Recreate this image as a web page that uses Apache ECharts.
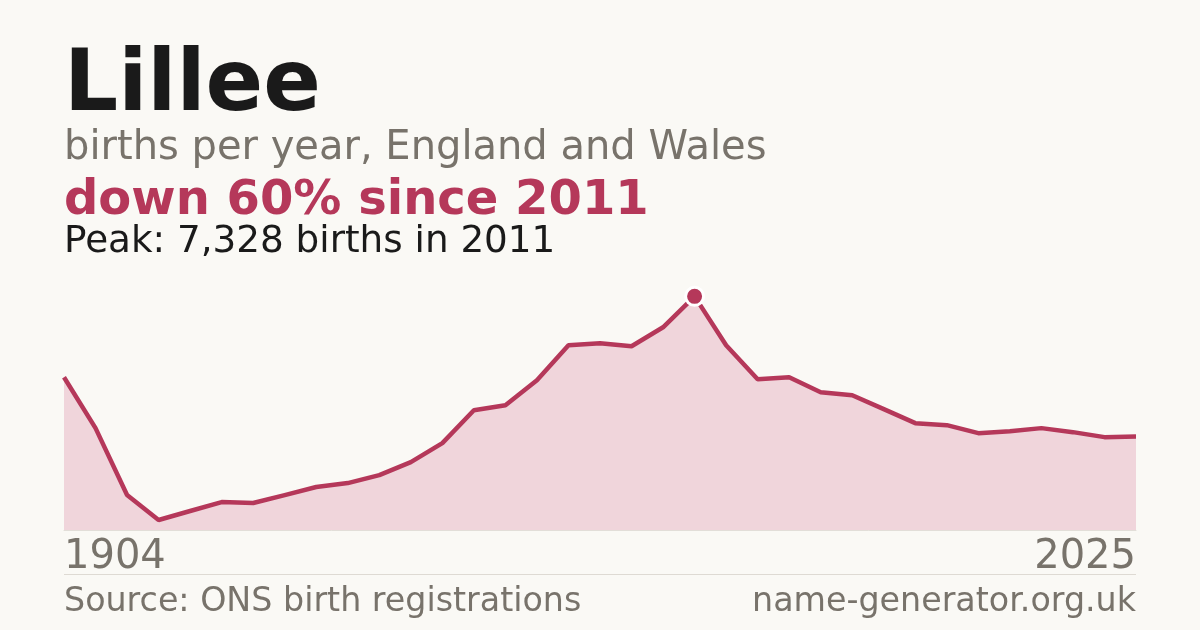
<!DOCTYPE html>
<html>
<head>
  <meta charset="utf-8">
  <script src="https://cdn.jsdelivr.net/npm/echarts@6/dist/echarts.min.js"></script>
  <style>
    html, body { margin: 0; padding: 0; background: #faf9f5; }
    #main { width: 1200px; height: 630px; }
  </style>
</head>
<body>
<div id="main"></div>
<script type="text/javascript">
    // years shown on the category axis (only the two ends get a label)
    var years = [1904, 1914, 1924, 1934, 1944, 1954, 1964, 1974, 1984, 1994,
                 2001, 2002, 2003, 2004, 2005, 2006, 2007, 2008, 2009, 2010,
                 2011, 2012, 2013, 2014, 2015, 2016, 2017, 2018, 2019, 2020,
                 2021, 2022, 2023, 2024, 2025];
    // births per year
    var births = [4792, 3195, 1096, 313, 595, 877, 846, 1096, 1347, 1472,
                  1723, 2130, 2725, 3758, 3915, 4698, 5794, 5857, 5763, 6358,
                  7328, 5794, 4729, 4792, 4322, 4228, 3790, 3351, 3288, 3038,
                  3100, 3195, 3069, 2913, 2931];
    var peakYear = 2011;
    var peakValue = 7328;

    var crimson = '#b5385a';
    var grey = '#78736b';
    var font = 'DejaVu Sans';

    var myChart = echarts.init(document.getElementById('main'));
    var peakIndex = years.indexOf(peakYear);

    var option = {
        backgroundColor: '#faf9f5',
        animation: false,
        grid: { left: 64, right: 64, top: 273, bottom: 100 },
        xAxis: {
            type: 'category',
            data: years,
            boundaryGap: false,
            axisLine: { show: true, lineStyle: { color: '#e2ded8', width: 1 } },
            axisTick: { show: false },
            splitLine: { show: false },
            axisLabel: {
                interval: function (i) { return i === 0 || i === years.length - 1; },
                color: grey,
                fontFamily: font,
                fontSize: 40,
                margin: 8,
                alignMinLabel: 'left',
                alignMaxLabel: 'right'
            }
        },
        yAxis: {
            type: 'value',
            min: 0,
            max: function (v) { return v.max * 1.1; },
            show: false,
            splitLine: { show: false }
        },
        series: [{
            type: 'line',
            data: births,
            symbol: 'none',
            lineStyle: { color: crimson, width: 4.5 },
            areaStyle: { color: '#f0d5db', opacity: 1 },
            markPoint: {
                symbol: 'circle',
                symbolSize: 18,
                itemStyle: { color: crimson, borderColor: '#ffffff', borderWidth: 3 },
                label: { show: false },
                data: [{ coord: [peakIndex, peakValue] }]
            }
        }],
        graphic: [
            { type: 'text', left: 64, top: 45, style: { text: 'Lillee', font: 'bold 85px "DejaVu Sans"', fill: '#1a1a1a' } },
            { type: 'text', left: 64, top: 129, style: { text: 'births per year, England and Wales', font: '40px "DejaVu Sans"', fill: grey } },
            { type: 'text', left: 64, top: 178, style: { text: 'down 60% since 2011', font: 'bold 48px "DejaVu Sans"', fill: crimson } },
            { type: 'text', left: 64, top: 224, style: { text: 'Peak: 7,328 births in 2011', font: '37.3px "DejaVu Sans"', fill: '#1a1a1a' } },
            { type: 'line', shape: { x1: 64, y1: 574.5, x2: 1136, y2: 574.5 }, style: { stroke: '#dedad3', lineWidth: 1 } },
            { type: 'text', left: 64, top: 586, style: { text: 'Source: ONS birth registrations', font: '33.3px "DejaVu Sans"', fill: grey } },
            { type: 'text', right: 64, top: 586, style: { text: 'name-generator.org.uk', font: '33.3px "DejaVu Sans"', fill: grey } }
        ]
    };
    myChart.setOption(option);
</script>
</body>
</html>
